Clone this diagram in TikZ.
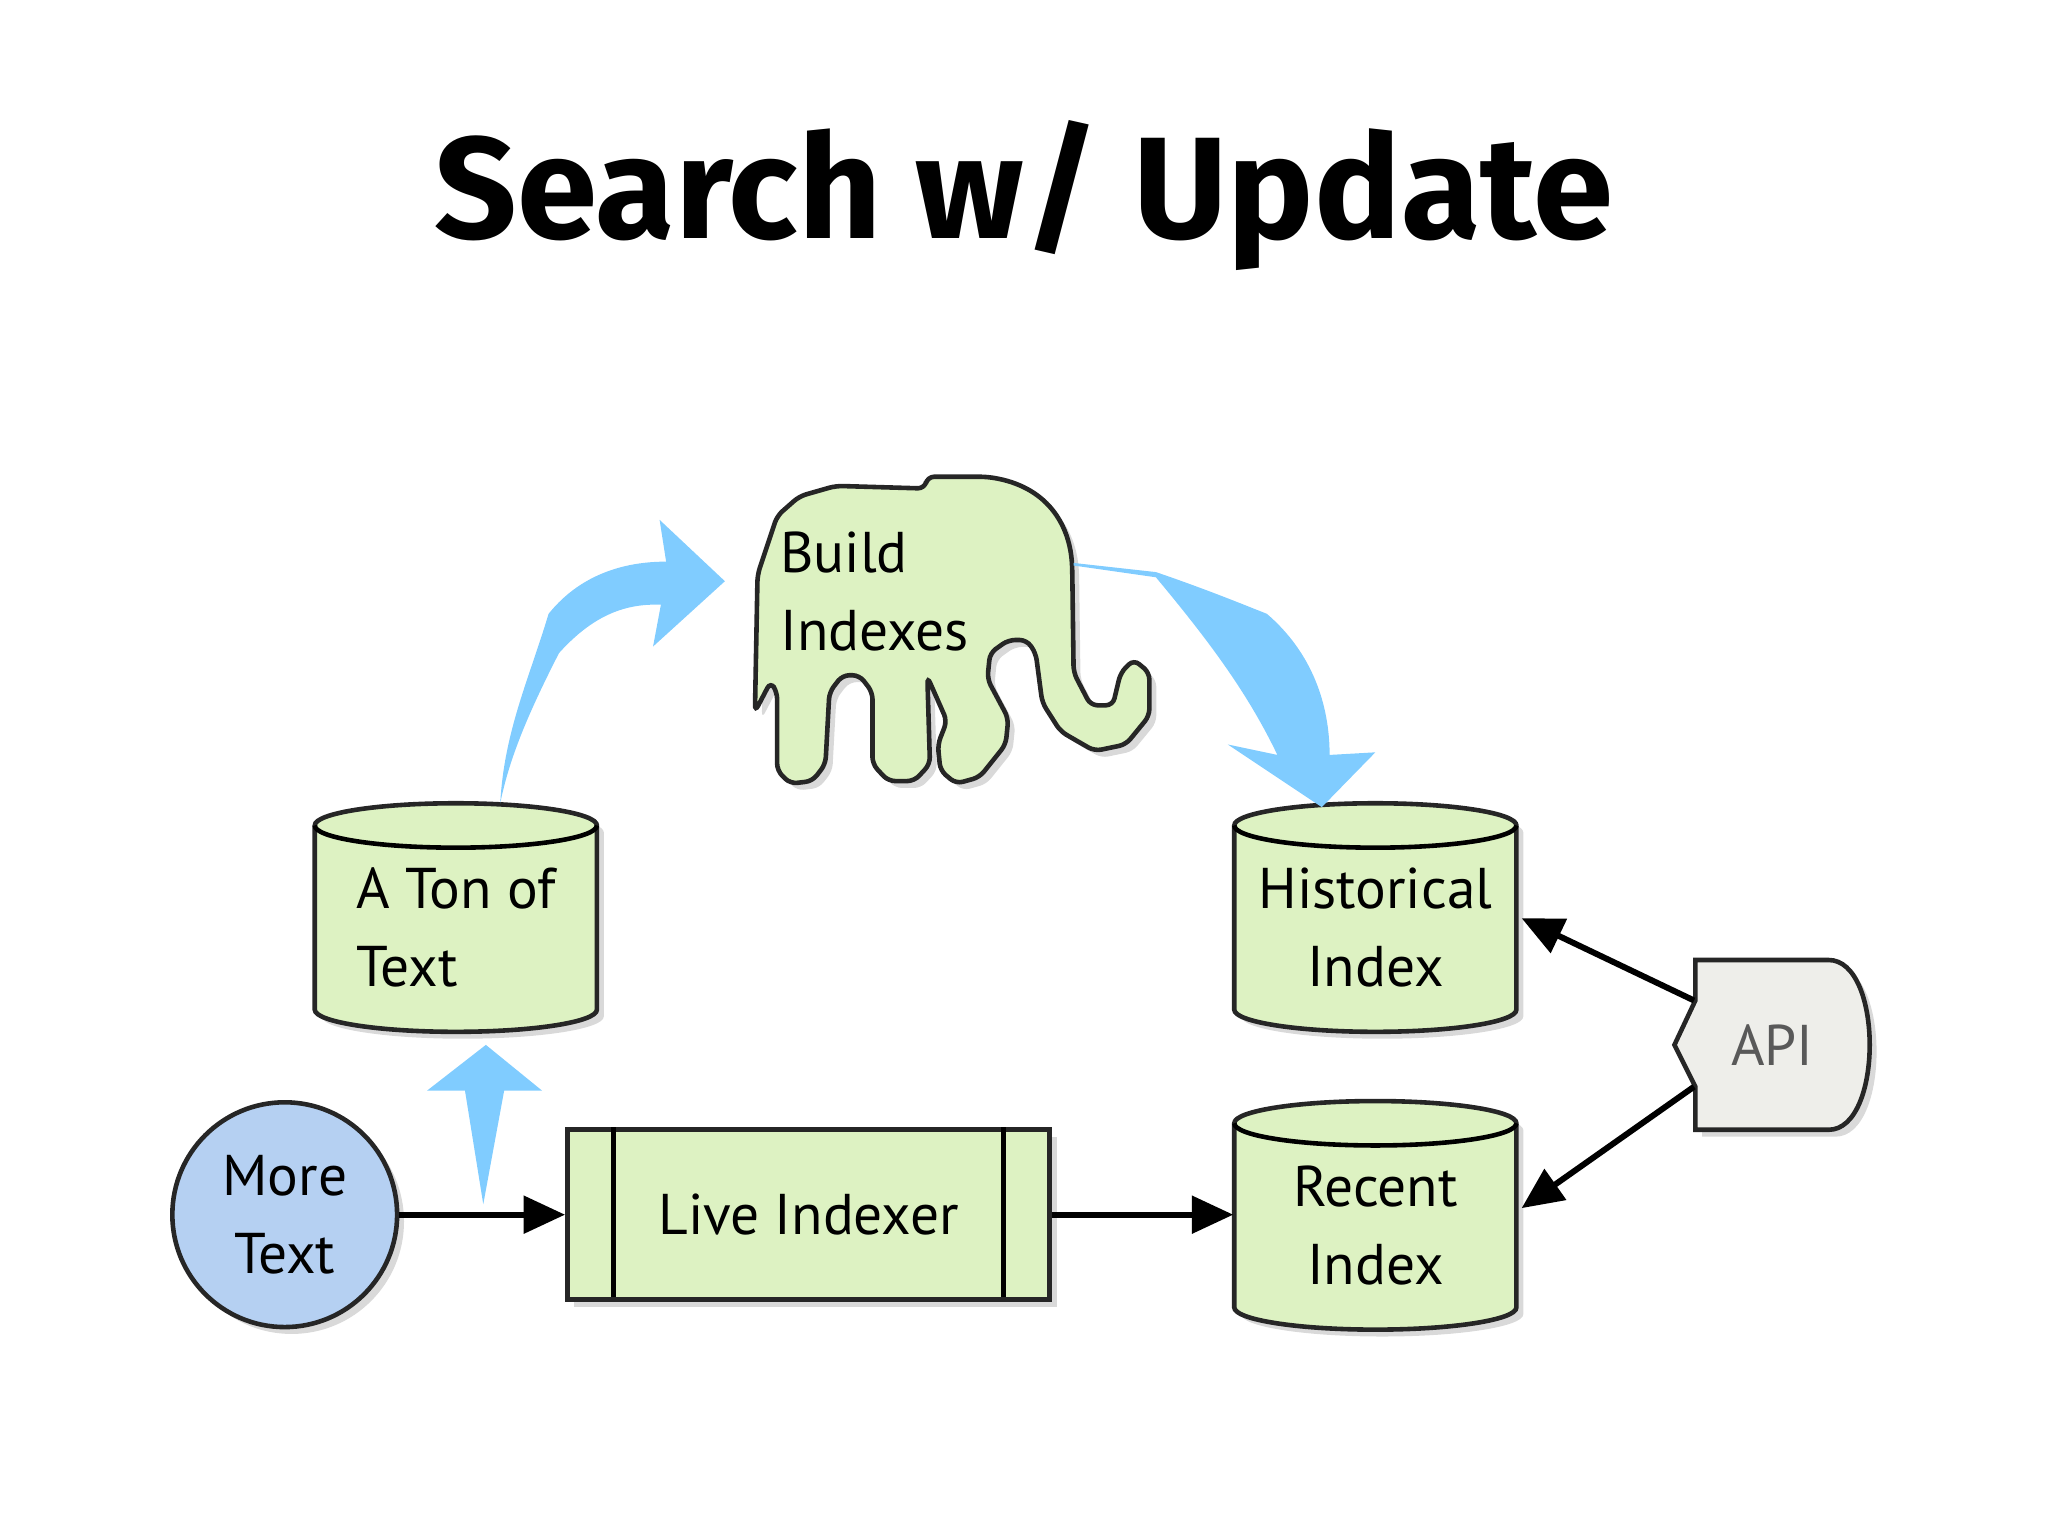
\documentclass[tikz,border=0pt]{standalone}
\usepackage{fontspec}
\setmainfont{PT Sans}
\newfontfamily\titlefont{Fira Sans}
\usetikzlibrary{arrows.meta,shadows,positioning}
\definecolor{paleGreen}{HTML}{DDF2C2}
\definecolor{skyBlue}{HTML}{80CCFF}
\definecolor{moreBlue}{HTML}{B5D0F2}
\definecolor{apiGray}{HTML}{EEEEEA}

\tikzset{
  box/.style={draw=black!85, line width=1pt, fill=paleGreen,
    drop shadow={opacity=.3, shadow xshift=1.5pt, shadow yshift=-1.5pt}},
  lbl/.style={font=\fontsize{12.5}{17}\selectfont},
  link/.style={-{Triangle[length=9pt,width=8pt]}, line width=1.3pt},
  flow/.style={fill=skyBlue, draw=none}
}

% database cylinder: name, centre x, centre y, text, alignment
\newcommand\dbcyl[5]{%
  \path[box] (#2-108,#3-70) -- (#2-108,#3+71)
    arc[start angle=180, end angle=0, x radius=108, y radius=17]
    -- (#2+108,#3-70)
    arc[start angle=0, end angle=-180, x radius=108, y radius=17] -- cycle;
  \draw[line width=1pt] (#2-108,#3-70)
    arc[start angle=180, end angle=0, x radius=108, y radius=17];
  \node[lbl, align=#5, minimum width=2.16cm, minimum height=1.41cm] (#1) at (#2,#3+8) {#4};
}

\begin{document}
\begin{tikzpicture}[x=0.01cm, y=-0.01cm]
\useasboundingbox (0,0) rectangle (1568,1176);

\node[font=\titlefont\bfseries\fontsize{31.5}{36}\selectfont] (title) at (784,150) {Search w/ Update};

% elephant
\draw[box, rounded corners=1.5pt] (578,545) -- (580,440) -- (595,395) -- (612,380) -- (640,372)
  -- (708,374) -- (710,365) -- (755,365)
  .. controls (800,372) and (820,400) .. (821,440)
  -- (822,515) -- (835,540) -- (852,540) -- (858,515) -- (868,505) -- (880,515)
  -- (880,548) -- (862,570) -- (838,575) -- (812,560) -- (798,538) -- (793,500)
  -- (786,490) -- (772,490) -- (758,500) -- (756,520) -- (772,550) -- (770,570)
  -- (750,595) -- (732,600) -- (720,590) -- (718,570) -- (725,552) -- (710,518)
  -- (712,585) -- (700,598) -- (680,598) -- (668,585) -- (668,530) -- (658,517)
  -- (645,517) -- (635,530) -- (632,585) -- (622,598) -- (605,600) -- (595,590)
  -- (595,530) -- (590,522) -- cycle;
\node[lbl, align=left, anchor=north west] (build) at (585,395) {Build\\Indexes};

% data stores
\dbcyl{ton}{349}{702}{A Ton of\\Text}{left}
\dbcyl{hist}{1053}{702}{Historical\\Index}{center}
\dbcyl{recent}{1053}{930}{Recent\\Index}{center}

% incoming text and indexer
\node[box, circle, fill=moreBlue, minimum size=1.72cm, lbl, align=center] (more) at (218,930) {More\\Text};
\node[box, minimum width=3.69cm, minimum height=1.3cm, lbl] (live) at (619,930) {Live Indexer};
\draw[line width=1pt] (live.north west) ++(37,0) -- ++(0,130);
\draw[line width=1pt] (live.north east) ++(-37,0) -- ++(0,130);

% api
\path[box, fill=apiGray] (1282,800) -- (1298,766) -- (1298,735) -- (1400,735)
  .. controls (1442,735) and (1442,865) .. (1400,865) -- (1298,865) -- (1298,832) -- cycle;
\node[lbl, text=black!65] (api) at (1357,800) {API};
\coordinate (apiUp) at (1297,766);
\coordinate (apiDown) at (1297,832);

% black connectors
\draw[link] (more) -- (live);
\draw[link] (live.east) -- (live.east -| recent.west);
\draw[link] (apiUp) -- (1165,703);
\draw[link] (apiDown) -- (1165,925);

% blue flows
\fill[flow] (383,615) .. controls (386,560) and (405,520) .. (420,470)
  .. controls (440,445) and (470,430) .. (510,430) -- (505,398) -- (555,445)
  -- (500,495) -- (506,463) .. controls (480,462) and (455,470) .. (428,500)
  .. controls (405,545) and (390,580) .. (383,615) -- cycle;
\fill[flow] (822,431) -- (885,438) .. controls (920,450) and (945,460) .. (970,470)
  .. controls (1005,500) and (1018,540) .. (1018,578) -- (1053,576) -- (1012,618)
  -- (940,570) -- (978,578) .. controls (955,530) and (925,490) .. (885,442) -- (822,433) -- cycle;
\fill[flow] (370,922) -- (356,835) -- (327,835) -- (372,800) -- (415,835) -- (386,835) -- cycle;
\end{tikzpicture}
\end{document}
